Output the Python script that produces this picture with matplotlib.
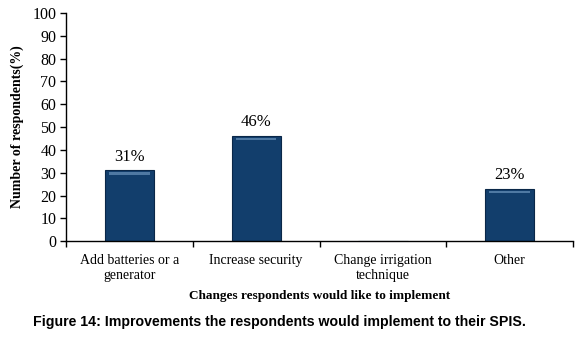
import matplotlib
matplotlib.use("Agg")
import matplotlib.pyplot as plt
from matplotlib.ticker import FixedLocator

categories = ["Add batteries or a\ngenerator", "Increase security", "Change irrigation\ntechnique", "Other"]
values = [31, 46, 0, 23]
labels = ["31%", "46%", "", "23%"]
yticks = list(range(0, 101, 10))

fig = plt.figure(figsize=(5.8, 3.5), dpi=100)
ax = fig.add_axes([0.114, 0.311, 0.874, 0.652])
serif = "Liberation Serif"

x = list(range(len(categories)))
bars = ax.bar(x, values, width=0.39, color="#123e6c", edgecolor="#0a2748", linewidth=0.8, zorder=2)
# bevel highlight
for b, v in zip(bars, values):
    if v > 0:
        ax.bar(b.get_x() + b.get_width() / 2, 0.9, bottom=v - 1.8, width=b.get_width() * 0.82,
               color="#4f79a3", linewidth=0, zorder=3)
for xi, v, lab in zip(x, values, labels):
    if lab:
        ax.text(xi, v + 2.5, lab, ha="center", va="bottom", fontsize=12, family=serif)

ax.set_xlim(-0.5, len(categories) - 0.5)
ax.set_ylim(0, 100)
ax.set_yticks(yticks)
ax.set_yticklabels([str(t) for t in yticks], fontsize=11.5, family=serif)
ax.set_xticks(x)
ax.set_xticklabels(categories, fontsize=10, family=serif, linespacing=1.25)
ax.tick_params(axis="x", which="major", length=0, pad=9)
ax.xaxis.set_minor_locator(FixedLocator([i - 0.5 for i in range(len(categories) + 1)]))
ax.tick_params(axis="x", which="minor", length=4, direction="out", width=1)
ax.tick_params(axis="y", length=4, direction="out", width=1, pad=3)

for s in ["top", "right"]:
    ax.spines[s].set_visible(False)
ax.spines["left"].set_linewidth(1)
ax.spines["bottom"].set_linewidth(1)

ax.set_ylabel("Number of respondents(%)", fontsize=10, family=serif, fontweight="bold", labelpad=6)
ax.set_xlabel("Changes respondents would like to implement", fontsize=9.5, family=serif, fontweight="bold", labelpad=6)

fig.text(0.057, 0.08, "Figure 14: Improvements the respondents would implement to their SPIS.",
         fontsize=10.2, family="Liberation Sans", fontweight="bold", ha="left", va="center")

fig.savefig("out.png", dpi=100)
